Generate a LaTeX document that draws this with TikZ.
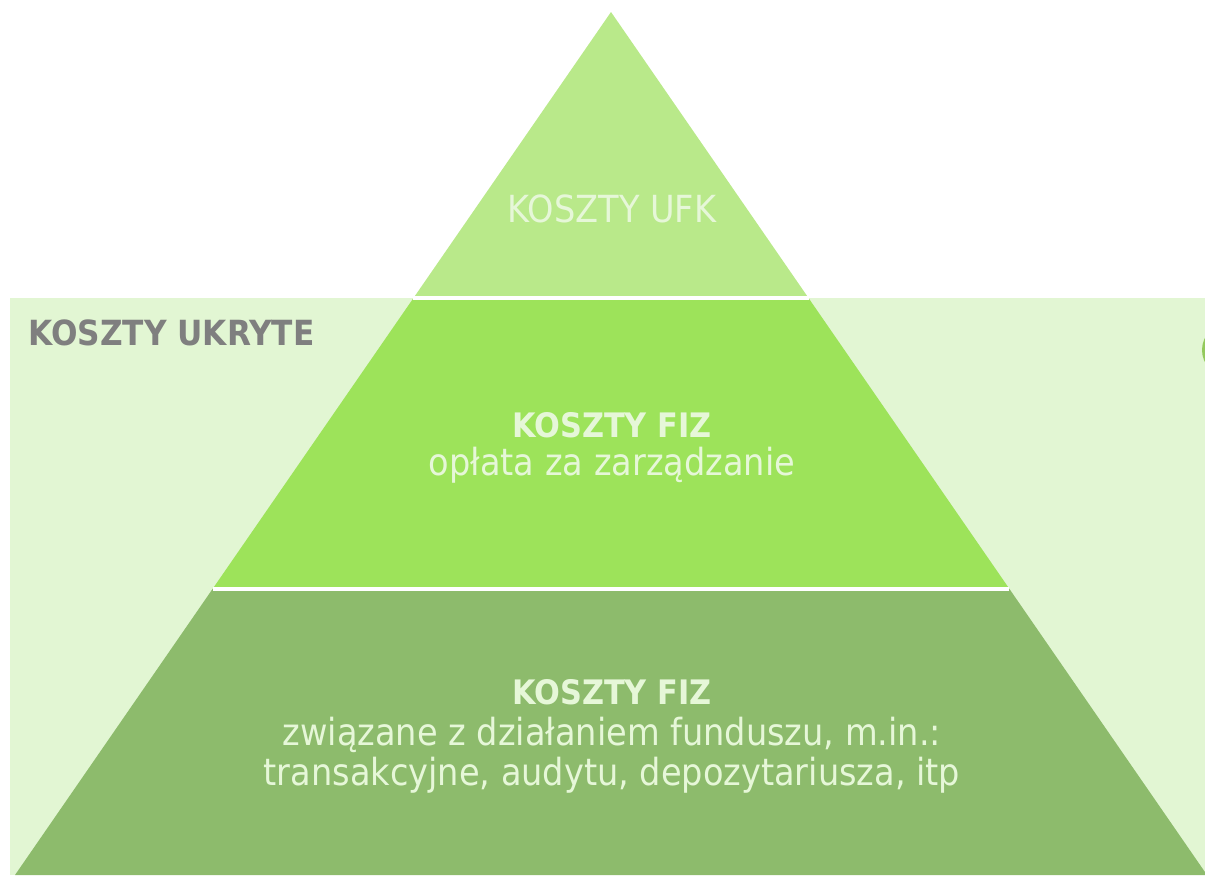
\documentclass[tikz,border=0pt]{standalone}
\usepackage{fontspec}
\setmainfont{DejaVu Sans Condensed}
\usetikzlibrary{calc}
\usepackage{xcolor}

\definecolor{hiddenbg}{HTML}{E2F6D3}
\definecolor{ufkgreen}{HTML}{B9E98A}
\definecolor{feegreen}{HTML}{9DE35A}
\definecolor{fundgreen}{HTML}{8DBB6C}
\definecolor{dotgreen}{HTML}{93C95C}
\definecolor{labelgray}{HTML}{7F7F7F}
\definecolor{paletext}{HTML}{E6F7D8}

\begin{document}
\begin{tikzpicture}[x=0.75pt,y=-0.75pt,
    head/.style={font=\fontsize{25.3}{30}\selectfont\bfseries, text=paletext},
    body/.style={font=\fontsize{28}{30}\selectfont, text=paletext, align=center}]
      \useasboundingbox (0,0) rectangle (1205,875);
      \clip (0,0) rectangle (1205,875);

      % Hidden costs box
      \fill[hiddenbg] (10,298) rectangle (1205,875);
      \fill[dotgreen] (1229,350) circle (27);

      % Pyramid
      \coordinate (apex) at (611,12);
      \coordinate (bl) at (15,875);
      \coordinate (br) at (1207,875);
      \coordinate (l1) at ($(apex)!0.3314!(bl)$);
      \coordinate (r1) at ($(apex)!0.3314!(br)$);
      \coordinate (l2) at ($(apex)!0.6686!(bl)$);
      \coordinate (r2) at ($(apex)!0.6686!(br)$);

      \fill[ufkgreen] (apex) -- (l1) -- (r1) -- cycle;
      \fill[feegreen] (l1) -- (l2) -- (r2) -- (r1) -- cycle;
      \fill[fundgreen] (l2) -- (bl) -- (br) -- (r2) -- cycle;
      \draw[white, line width=2.5pt] (l1) -- (r1);
      \draw[white, line width=2.5pt] (l2) -- (r2);

      % Labels
      \node[font=\fontsize{26}{30}\selectfont\bfseries, text=labelgray, anchor=west] (hidden) at (24,333) {KOSZTY UKRYTE};
      \node[body] (ufk) at (612,209) {KOSZTY UFK};
      \node[head] (fiz1) at (612,425) {KOSZTY FIZ};
      \node[body] (fee) at (612,465) {opłata za zarządzanie};
      \node[head] (fiz2) at (612,692) {KOSZTY FIZ};
      \node[body] (fund) at (612,755) {związane z działaniem funduszu, m.in.:\\transakcyjne, audytu, depozytariusza, itp};

  \end{tikzpicture}
\end{document}
